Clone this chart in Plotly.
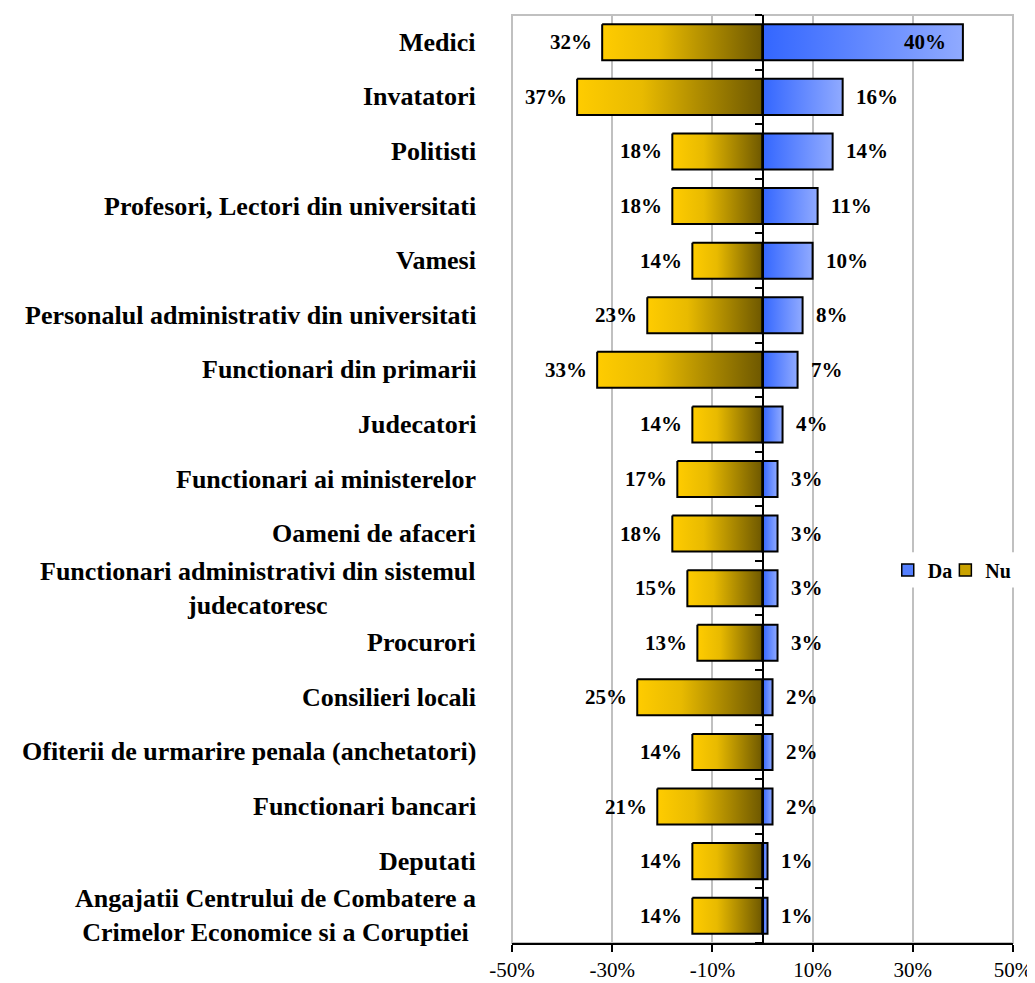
import plotly.graph_objects as go

categories = [
    "Medici",
    "Invatatori",
    "Politisti",
    "Profesori, Lectori din universitati",
    "Vamesi",
    "Personalul administrativ din universitati",
    "Functionari din primarii",
    "Judecatori",
    "Functionari ai ministerelor",
    "Oameni de afaceri",
    "Functionari administrativi din sistemul<br>judecatoresc",
    "Procurori",
    "Consilieri locali",
    "Ofiterii de urmarire penala (anchetatori)",
    "Functionari bancari",
    "Deputati",
    "Angajatii Centrului de Combatere a<br>Crimelor Economice si a Coruptiei",
]
da_values = [40, 16, 14, 11, 10, 8, 7, 4, 3, 3, 3, 3, 2, 2, 2, 1, 1]
nu_values = [32, 37, 18, 18, 14, 23, 33, 14, 17, 18, 15, 13, 25, 14, 21, 14, 14]
x_tick_values = [-50, -30, -10, 10, 30, 50]
x_tick_labels = ["-50%", "-30%", "-10%", "10%", "30%", "50%"]

FONT = "Liberation Serif"
HALF = 0.33
DA_SCALE = [[0, "#3366FF"], [1, "#90AAFF"]]
NU_SCALE = [[0, "#FFCC00"], [0.35, "#E8BA00"], [1, "#6E5800"]]

fig = go.Figure()

for i, (d, n) in enumerate(zip(da_values, nu_values)):
    ys = [i - HALF, i - HALF, i + HALF, i + HALF, i - HALF]
    fig.add_trace(go.Scatter(
        x=[-n, 0, 0, -n, -n], y=ys, mode="lines", fill="toself",
        fillgradient=dict(type="horizontal", colorscale=NU_SCALE),
        line=dict(color="black", width=2), showlegend=False, hoverinfo="skip"))
    fig.add_trace(go.Scatter(
        x=[0, d, d, 0, 0], y=ys, mode="lines", fill="toself",
        fillgradient=dict(type="horizontal", colorscale=DA_SCALE),
        line=dict(color="black", width=2), showlegend=False, hoverinfo="skip"))

# legend entries (one legend box per entry for tight spacing)
fig.add_trace(go.Scatter(x=[None], y=[None], mode="markers", name="Da", legend="legend",
                         marker=dict(symbol="square", size=12, color="#5580FF",
                                     line=dict(color="black", width=1.5))))
fig.add_trace(go.Scatter(x=[None], y=[None], mode="markers", name="Nu", legend="legend2",
                         marker=dict(symbol="square", size=12, color="#C9A200",
                                     line=dict(color="black", width=1.5))))

annotations = []
for i, cat in enumerate(categories):
    annotations.append(dict(
        xref="paper", x=0, yref="y", y=i, text=cat, showarrow=False,
        xanchor="right", yanchor="middle", align="center", xshift=-34,
        font=dict(family=FONT, size=26, color="black", weight="bold")))

for i, (d, n) in enumerate(zip(da_values, nu_values)):
    annotations.append(dict(
        xref="x", x=-n, yref="y", y=i, text=f"{n}%", showarrow=False,
        xanchor="right", yanchor="middle", xshift=-8,
        font=dict(family=FONT, size=21, color="black", weight="bold")))
    inside = d > 35
    annotations.append(dict(
        xref="x", x=d, yref="y", y=i, text=f"{d}%", showarrow=False,
        xanchor="right" if inside else "left", yanchor="middle",
        xshift=-15 if inside else 11,
        font=dict(family=FONT, size=21, color="black", weight="bold")))

legend_font = dict(family=FONT, size=20, color="black", weight="bold")

# page body adds an 8px margin; figure is sized to fit the window
fig.update_layout(
    width=1027, height=975,
    margin=dict(l=504, r=22, t=7, b=40, autoexpand=False),
    paper_bgcolor="white", plot_bgcolor="white",
    annotations=annotations,
    shapes=[
        dict(type="rect", xref="paper", yref="paper", x0=0, x1=1, y0=0, y1=1,
             line=dict(color="#C0C0C0", width=2), layer="below"),
        # white backdrop behind the legend
        dict(type="rect", xref="paper", yref="paper", x0=0.75, x1=1.004,
             y0=0.383, y1=0.421, line=dict(width=0), fillcolor="white", layer="above"),
    ],
    xaxis=dict(range=[-50, 50], tickvals=x_tick_values, ticktext=x_tick_labels,
               showgrid=True, gridcolor="#C0C0C0", gridwidth=2, zeroline=False,
               showline=True, linecolor="black", linewidth=2,
               ticks="outside", ticklen=7, tickwidth=2, tickcolor="black",
               tickfont=dict(family=FONT, size=21, color="black")),
    yaxis=dict(range=[16.5, -0.5], anchor="free", position=0.5,
               tickvals=[k - 0.5 for k in range(len(categories) + 1)],
               showticklabels=False, ticks="outside", ticklen=7, tickwidth=2,
               tickcolor="black", showline=True, linecolor="black", linewidth=2,
               showgrid=False, zeroline=False),
    legend=dict(orientation="h", x=0.75, y=0.402, xanchor="left", yanchor="middle",
                bgcolor="rgba(0,0,0,0)", itemwidth=30, font=legend_font),
    legend2=dict(orientation="h", x=0.865, y=0.402, xanchor="left", yanchor="middle",
                 bgcolor="rgba(0,0,0,0)", itemwidth=30, font=legend_font),
    showlegend=True,
)

fig.write_html("out.html")
